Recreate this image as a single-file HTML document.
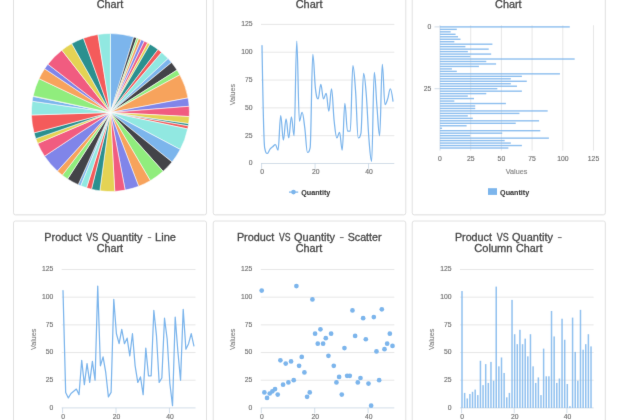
<!DOCTYPE html>
<html><head><meta charset="utf-8"><title>Charts</title>
<style>html,body{margin:0;padding:0;background:#fff;overflow:hidden}svg{display:block}text{font-family:"Liberation Sans",sans-serif}</style>
</head><body>
<svg width="620" height="420" viewBox="0 0 620 420">
<defs><filter id="soft" x="0" y="0" width="620" height="420" filterUnits="userSpaceOnUse" color-interpolation-filters="sRGB"><feConvolveMatrix order="3" kernelMatrix="0.00562 0.06375 0.00562 0.06375 0.72250 0.06375 0.00562 0.06375 0.00562" edgeMode="duplicate" preserveAlpha="true"/></filter></defs>
<g filter="url(#soft)">
<rect x="-5" y="-5" width="630" height="430" fill="#fff"/>
<rect x="13.5" y="-39.4" width="193" height="254.75" rx="2.2" fill="none" stroke="#000" stroke-opacity="0.035" stroke-width="1"/>
<rect x="13.5" y="-40" width="193" height="254.75" rx="2.0" fill="#fff" stroke="#e2e2e2" stroke-width="1"/>
<rect x="13.5" y="221.6" width="193" height="249" rx="2.2" fill="none" stroke="#000" stroke-opacity="0.035" stroke-width="1"/>
<rect x="13.5" y="221" width="193" height="249" rx="2.0" fill="#fff" stroke="#e2e2e2" stroke-width="1"/>
<rect x="213.25" y="-39.4" width="192.5" height="254.75" rx="2.2" fill="none" stroke="#000" stroke-opacity="0.035" stroke-width="1"/>
<rect x="213.25" y="-40" width="192.5" height="254.75" rx="2.0" fill="#fff" stroke="#e2e2e2" stroke-width="1"/>
<rect x="213.25" y="221.6" width="192.5" height="249" rx="2.2" fill="none" stroke="#000" stroke-opacity="0.035" stroke-width="1"/>
<rect x="213.25" y="221" width="192.5" height="249" rx="2.0" fill="#fff" stroke="#e2e2e2" stroke-width="1"/>
<rect x="412.25" y="-39.4" width="193.05" height="254.75" rx="2.2" fill="none" stroke="#000" stroke-opacity="0.035" stroke-width="1"/>
<rect x="412.25" y="-40" width="193.05" height="254.75" rx="2.0" fill="#fff" stroke="#e2e2e2" stroke-width="1"/>
<rect x="412.25" y="221.6" width="193.05" height="249" rx="2.2" fill="none" stroke="#000" stroke-opacity="0.035" stroke-width="1"/>
<rect x="412.25" y="221" width="193.05" height="249" rx="2.0" fill="#fff" stroke="#e2e2e2" stroke-width="1"/>
<text x="96.68" y="8" font-size="10.5" fill="#484848" stroke="#484848" stroke-width="0.3" textLength="26.57" lengthAdjust="spacingAndGlyphs">Chart</text>
<text x="295.68" y="8" font-size="10.5" fill="#484848" stroke="#484848" stroke-width="0.3" textLength="26.77" lengthAdjust="spacingAndGlyphs">Chart</text>
<text x="495.08" y="8" font-size="10.5" fill="#484848" stroke="#484848" stroke-width="0.3" textLength="26.57" lengthAdjust="spacingAndGlyphs">Chart</text>
<text x="44.3" y="240.6" font-size="10.5" fill="#484848" stroke="#484848" stroke-width="0.3" textLength="37.37" lengthAdjust="spacingAndGlyphs">Product</text>
<text x="86.29" y="240.6" font-size="10.5" fill="#484848" stroke="#484848" stroke-width="0.3" textLength="11.94" lengthAdjust="spacingAndGlyphs">VS</text>
<text x="101.68" y="240.6" font-size="10.5" fill="#484848" stroke="#484848" stroke-width="0.3" textLength="40.73" lengthAdjust="spacingAndGlyphs">Quantity</text>
<line x1="147.8" x2="151.2" y1="237.6" y2="237.6" stroke="#484848" stroke-width="0.8"/>
<text x="155.08" y="240.6" font-size="10.5" fill="#484848" stroke="#484848" stroke-width="0.3" textLength="20.82" lengthAdjust="spacingAndGlyphs">Line</text>
<text x="96.69" y="252.4" font-size="10.5" fill="#484848" stroke="#484848" stroke-width="0.3" textLength="26.37" lengthAdjust="spacingAndGlyphs">Chart</text>
<text x="236.9" y="240.6" font-size="10.5" fill="#484848" stroke="#484848" stroke-width="0.3" textLength="37.37" lengthAdjust="spacingAndGlyphs">Product</text>
<text x="279.1" y="240.6" font-size="10.5" fill="#484848" stroke="#484848" stroke-width="0.3" textLength="11.52" lengthAdjust="spacingAndGlyphs">VS</text>
<text x="294.08" y="240.6" font-size="10.5" fill="#484848" stroke="#484848" stroke-width="0.3" textLength="40.83" lengthAdjust="spacingAndGlyphs">Quantity</text>
<line x1="339.9" x2="343.7" y1="237.6" y2="237.6" stroke="#484848" stroke-width="0.8"/>
<text x="347.69" y="240.6" font-size="10.5" fill="#484848" stroke="#484848" stroke-width="0.3" textLength="33.85" lengthAdjust="spacingAndGlyphs">Scatter</text>
<text x="295.68" y="252.4" font-size="10.5" fill="#484848" stroke="#484848" stroke-width="0.3" textLength="26.57" lengthAdjust="spacingAndGlyphs">Chart</text>
<text x="454.91" y="240.6" font-size="10.5" fill="#484848" stroke="#484848" stroke-width="0.3" textLength="36.96" lengthAdjust="spacingAndGlyphs">Product</text>
<text x="496.69" y="240.6" font-size="10.5" fill="#484848" stroke="#484848" stroke-width="0.3" textLength="11.94" lengthAdjust="spacingAndGlyphs">VS</text>
<text x="512.08" y="240.6" font-size="10.5" fill="#484848" stroke="#484848" stroke-width="0.3" textLength="40.83" lengthAdjust="spacingAndGlyphs">Quantity</text>
<line x1="557.9" x2="561.7" y1="237.6" y2="237.6" stroke="#484848" stroke-width="0.8"/>
<text x="474.27" y="252.4" font-size="10.5" fill="#484848" stroke="#484848" stroke-width="0.3" textLength="38.25" lengthAdjust="spacingAndGlyphs">Column</text>
<text x="516.09" y="252.4" font-size="10.5" fill="#484848" stroke="#484848" stroke-width="0.3" textLength="26.37" lengthAdjust="spacingAndGlyphs">Chart</text>
<path d="M110.4 112.5L110.4 33.5A79 79 0 0 1 133.72 37.02Z" fill="#7cb5ec" stroke="#fff" stroke-width="0.56" stroke-linejoin="round"/>
<path d="M110.4 112.5L133.72 37.02A79 79 0 0 1 136.68 38Z" fill="#434348" stroke="#fff" stroke-width="0.56" stroke-linejoin="round"/>
<path d="M110.4 112.5L136.68 38A79 79 0 0 1 138.57 38.69Z" fill="#90ed7d" stroke="#fff" stroke-width="0.56" stroke-linejoin="round"/>
<path d="M110.4 112.5L138.57 38.69A79 79 0 0 1 141.26 39.78Z" fill="#f7a35c" stroke="#fff" stroke-width="0.56" stroke-linejoin="round"/>
<path d="M110.4 112.5L141.26 39.78A79 79 0 0 1 144.32 41.15Z" fill="#8085e9" stroke="#fff" stroke-width="0.56" stroke-linejoin="round"/>
<path d="M110.4 112.5L144.32 41.15A79 79 0 0 1 147.7 42.86Z" fill="#f15c80" stroke="#fff" stroke-width="0.56" stroke-linejoin="round"/>
<path d="M110.4 112.5L147.7 42.86A79 79 0 0 1 150.04 44.17Z" fill="#e4d354" stroke="#fff" stroke-width="0.56" stroke-linejoin="round"/>
<path d="M110.4 112.5L150.04 44.17A79 79 0 0 1 158.04 49.48Z" fill="#2b908f" stroke="#fff" stroke-width="0.56" stroke-linejoin="round"/>
<path d="M110.4 112.5L158.04 49.48A79 79 0 0 1 161.69 52.42Z" fill="#f45b5b" stroke="#fff" stroke-width="0.56" stroke-linejoin="round"/>
<path d="M110.4 112.5L161.69 52.42A79 79 0 0 1 168.14 58.59Z" fill="#91e8e1" stroke="#fff" stroke-width="0.56" stroke-linejoin="round"/>
<path d="M110.4 112.5L168.14 58.59A79 79 0 0 1 171.52 62.45Z" fill="#7cb5ec" stroke="#fff" stroke-width="0.56" stroke-linejoin="round"/>
<path d="M110.4 112.5L171.52 62.45A79 79 0 0 1 177.02 70.04Z" fill="#434348" stroke="#fff" stroke-width="0.56" stroke-linejoin="round"/>
<path d="M110.4 112.5L177.02 70.04A79 79 0 0 1 179.85 74.85Z" fill="#90ed7d" stroke="#fff" stroke-width="0.56" stroke-linejoin="round"/>
<path d="M110.4 112.5L179.85 74.85A79 79 0 0 1 188.04 97.9Z" fill="#f7a35c" stroke="#fff" stroke-width="0.56" stroke-linejoin="round"/>
<path d="M110.4 112.5L188.04 97.9A79 79 0 0 1 189.16 106.31Z" fill="#8085e9" stroke="#fff" stroke-width="0.56" stroke-linejoin="round"/>
<path d="M110.4 112.5L189.16 106.31A79 79 0 0 1 189.29 116.57Z" fill="#f15c80" stroke="#fff" stroke-width="0.56" stroke-linejoin="round"/>
<path d="M110.4 112.5L189.29 116.57A79 79 0 0 1 188.6 123.68Z" fill="#e4d354" stroke="#fff" stroke-width="0.56" stroke-linejoin="round"/>
<path d="M110.4 112.5L188.6 123.68A79 79 0 0 1 188.26 125.89Z" fill="#2b908f" stroke="#fff" stroke-width="0.56" stroke-linejoin="round"/>
<path d="M110.4 112.5L188.26 125.89A79 79 0 0 1 187.67 128.96Z" fill="#f45b5b" stroke="#fff" stroke-width="0.56" stroke-linejoin="round"/>
<path d="M110.4 112.5L187.67 128.96A79 79 0 0 1 180.22 149.46Z" fill="#91e8e1" stroke="#fff" stroke-width="0.56" stroke-linejoin="round"/>
<path d="M110.4 112.5L180.22 149.46A79 79 0 0 1 172.02 161.94Z" fill="#7cb5ec" stroke="#fff" stroke-width="0.56" stroke-linejoin="round"/>
<path d="M110.4 112.5L172.02 161.94A79 79 0 0 1 163.12 171.34Z" fill="#434348" stroke="#fff" stroke-width="0.56" stroke-linejoin="round"/>
<path d="M110.4 112.5L163.12 171.34A79 79 0 0 1 150.33 180.66Z" fill="#90ed7d" stroke="#fff" stroke-width="0.56" stroke-linejoin="round"/>
<path d="M110.4 112.5L150.33 180.66A79 79 0 0 1 138.67 186.27Z" fill="#f7a35c" stroke="#fff" stroke-width="0.56" stroke-linejoin="round"/>
<path d="M110.4 112.5L138.67 186.27A79 79 0 0 1 125.16 190.11Z" fill="#8085e9" stroke="#fff" stroke-width="0.56" stroke-linejoin="round"/>
<path d="M110.4 112.5L125.16 190.11A79 79 0 0 1 114.75 191.38Z" fill="#f15c80" stroke="#fff" stroke-width="0.56" stroke-linejoin="round"/>
<path d="M110.4 112.5L114.75 191.38A79 79 0 0 1 99.83 190.79Z" fill="#e4d354" stroke="#fff" stroke-width="0.56" stroke-linejoin="round"/>
<path d="M110.4 112.5L99.83 190.79A79 79 0 0 1 91.49 189.2Z" fill="#2b908f" stroke="#fff" stroke-width="0.56" stroke-linejoin="round"/>
<path d="M110.4 112.5L91.49 189.2A79 79 0 0 1 86.55 187.81Z" fill="#f45b5b" stroke="#fff" stroke-width="0.56" stroke-linejoin="round"/>
<path d="M110.4 112.5L86.55 187.81A79 79 0 0 1 80.67 185.69Z" fill="#91e8e1" stroke="#fff" stroke-width="0.56" stroke-linejoin="round"/>
<path d="M110.4 112.5L80.67 185.69A79 79 0 0 1 78.21 184.64Z" fill="#7cb5ec" stroke="#fff" stroke-width="0.56" stroke-linejoin="round"/>
<path d="M110.4 112.5L78.21 184.64A79 79 0 0 1 67.61 178.91Z" fill="#434348" stroke="#fff" stroke-width="0.56" stroke-linejoin="round"/>
<path d="M110.4 112.5L67.61 178.91A79 79 0 0 1 62.32 175.18Z" fill="#90ed7d" stroke="#fff" stroke-width="0.56" stroke-linejoin="round"/>
<path d="M110.4 112.5L62.32 175.18A79 79 0 0 1 57.35 171.04Z" fill="#f7a35c" stroke="#fff" stroke-width="0.56" stroke-linejoin="round"/>
<path d="M110.4 112.5L57.35 171.04A79 79 0 0 1 44.57 156.18Z" fill="#8085e9" stroke="#fff" stroke-width="0.56" stroke-linejoin="round"/>
<path d="M110.4 112.5L44.57 156.18A79 79 0 0 1 37.7 143.41Z" fill="#f15c80" stroke="#fff" stroke-width="0.56" stroke-linejoin="round"/>
<path d="M110.4 112.5L37.7 143.41A79 79 0 0 1 35.85 138.63Z" fill="#e4d354" stroke="#fff" stroke-width="0.56" stroke-linejoin="round"/>
<path d="M110.4 112.5L35.85 138.63A79 79 0 0 1 34.07 132.87Z" fill="#2b908f" stroke="#fff" stroke-width="0.56" stroke-linejoin="round"/>
<path d="M110.4 112.5L34.07 132.87A79 79 0 0 1 31.44 115.01Z" fill="#f45b5b" stroke="#fff" stroke-width="0.56" stroke-linejoin="round"/>
<path d="M110.4 112.5L31.44 115.01A79 79 0 0 1 32.21 101.21Z" fill="#91e8e1" stroke="#fff" stroke-width="0.56" stroke-linejoin="round"/>
<path d="M110.4 112.5L32.21 101.21A79 79 0 0 1 33.06 96.37Z" fill="#7cb5ec" stroke="#fff" stroke-width="0.56" stroke-linejoin="round"/>
<path d="M110.4 112.5L33.06 96.37A79 79 0 0 1 33.16 95.93Z" fill="#434348" stroke="#fff" stroke-width="0.56" stroke-linejoin="round"/>
<path d="M110.4 112.5L33.16 95.93A79 79 0 0 1 39.03 78.63Z" fill="#90ed7d" stroke="#fff" stroke-width="0.56" stroke-linejoin="round"/>
<path d="M110.4 112.5L39.03 78.63A79 79 0 0 1 44.63 68.73Z" fill="#f7a35c" stroke="#fff" stroke-width="0.56" stroke-linejoin="round"/>
<path d="M110.4 112.5L44.63 68.73A79 79 0 0 1 47.89 64.2Z" fill="#8085e9" stroke="#fff" stroke-width="0.56" stroke-linejoin="round"/>
<path d="M110.4 112.5L47.89 64.2A79 79 0 0 1 61.88 50.16Z" fill="#f15c80" stroke="#fff" stroke-width="0.56" stroke-linejoin="round"/>
<path d="M110.4 112.5L61.88 50.16A79 79 0 0 1 71.72 43.61Z" fill="#e4d354" stroke="#fff" stroke-width="0.56" stroke-linejoin="round"/>
<path d="M110.4 112.5L71.72 43.61A79 79 0 0 1 83.49 38.23Z" fill="#2b908f" stroke="#fff" stroke-width="0.56" stroke-linejoin="round"/>
<path d="M110.4 112.5L83.49 38.23A79 79 0 0 1 97.95 34.49Z" fill="#f45b5b" stroke="#fff" stroke-width="0.56" stroke-linejoin="round"/>
<path d="M110.4 112.5L97.95 34.49A79 79 0 0 1 110.4 33.5Z" fill="#91e8e1" stroke="#fff" stroke-width="0.56" stroke-linejoin="round"/>
<text x="252.6" y="165.4" font-size="6.8" fill="#727272" stroke="#727272" stroke-width="0.15" text-anchor="end" font-weight="normal" >0</text>
<line x1="261" x2="394.3" y1="135.68" y2="135.68" stroke="#dcdcdc" stroke-width="0.7"/>
<text x="252.6" y="137.58" font-size="6.8" fill="#727272" stroke="#727272" stroke-width="0.15" text-anchor="end" font-weight="normal" >25</text>
<line x1="261" x2="394.3" y1="107.86" y2="107.86" stroke="#dcdcdc" stroke-width="0.7"/>
<text x="252.6" y="109.76" font-size="6.8" fill="#727272" stroke="#727272" stroke-width="0.15" text-anchor="end" font-weight="normal" >50</text>
<line x1="261" x2="394.3" y1="80.04" y2="80.04" stroke="#dcdcdc" stroke-width="0.7"/>
<text x="252.6" y="81.94" font-size="6.8" fill="#727272" stroke="#727272" stroke-width="0.15" text-anchor="end" font-weight="normal" >75</text>
<line x1="261" x2="394.3" y1="52.22" y2="52.22" stroke="#dcdcdc" stroke-width="0.7"/>
<text x="252.6" y="54.12" font-size="6.8" fill="#727272" stroke="#727272" stroke-width="0.15" text-anchor="end" font-weight="normal" >100</text>
<line x1="261" x2="394.3" y1="24.4" y2="24.4" stroke="#dcdcdc" stroke-width="0.7"/>
<text x="252.6" y="26.3" font-size="6.8" fill="#727272" stroke="#727272" stroke-width="0.15" text-anchor="end" font-weight="normal" >125</text>
<text x="235.4" y="94.55" font-size="7.2" fill="#868686" stroke="#868686" stroke-width="0.15" text-anchor="middle" font-weight="normal" transform="rotate(-90 235.4 94.55)">Values</text>
<line x1="261" x2="394.3" y1="163.5" y2="163.5" stroke="#c0d0e0" stroke-width="0.7"/>
<line x1="261.6" x2="261.6" y1="163.5" y2="168.8" stroke="#c0d0e0" stroke-width="0.7"/>
<text x="262.2" y="174.3" font-size="6.8" fill="#727272" stroke="#727272" stroke-width="0.15" text-anchor="middle" font-weight="normal" >0</text>
<line x1="315.07" x2="315.07" y1="163.5" y2="168.8" stroke="#c0d0e0" stroke-width="0.7"/>
<text x="315.67" y="174.3" font-size="6.8" fill="#727272" stroke="#727272" stroke-width="0.15" text-anchor="middle" font-weight="normal" >20</text>
<line x1="368.54" x2="368.54" y1="163.5" y2="168.8" stroke="#c0d0e0" stroke-width="0.7"/>
<text x="369.14" y="174.3" font-size="6.8" fill="#727272" stroke="#727272" stroke-width="0.15" text-anchor="middle" font-weight="normal" >40</text>
<path d="M262 45.54C262 45.54 263.6 142.36 264.67 147.92C265.74 153.48 266.28 153.48 267.35 153.48C268.42 153.48 268.95 150.37 270.02 149.03C271.09 147.7 271.62 147.7 272.69 146.81C273.76 145.92 274.3 144.58 275.37 144.58C276.44 144.58 276.97 150.15 278.04 150.15C279.11 150.15 279.64 115.65 280.71 115.65C281.78 115.65 282.32 140.13 283.39 140.13C284.46 140.13 284.99 118.99 286.06 118.99C287.13 118.99 287.67 137.91 288.73 137.91C289.8 137.91 290.34 116.76 291.41 116.76C292.48 116.76 293.01 135.68 294.08 135.68C295.15 135.68 295.69 41.09 296.76 41.09C297.82 41.09 298.36 121.21 299.43 121.21C300.5 121.21 301.03 112.31 302.1 112.31C303.17 112.31 303.71 119.88 304.78 127.89C305.84 135.9 306.38 152.37 307.45 152.37C308.52 152.37 309.05 152.37 310.12 147.92C311.19 143.47 311.73 54.45 312.8 54.45C313.87 54.45 314.4 80.04 315.47 88.94C316.54 97.84 317.07 98.96 318.14 98.96C319.21 98.96 319.75 84.49 320.82 84.49C321.89 84.49 322.42 98.96 323.49 98.96C324.56 98.96 325.09 93.39 326.16 93.39C327.23 93.39 327.77 111.2 328.84 111.2C329.91 111.2 330.44 88.94 331.51 88.94C332.58 88.94 333.11 111.42 334.18 121.21C335.25 131.01 335.79 137.91 336.86 137.91C337.93 137.91 338.46 132.34 339.53 132.34C340.6 132.34 341.13 150.15 342.2 150.15C343.27 150.15 343.81 103.41 344.88 103.41C345.95 103.41 346.48 131.23 347.55 131.23C348.62 131.23 349.16 131.23 350.22 131.23C351.29 131.23 351.83 65.57 352.9 65.57C353.97 65.57 354.5 76.7 355.57 91.17C356.64 105.63 357.18 137.91 358.24 137.91C359.31 137.91 359.85 137.91 360.92 133.45C361.99 129 362.52 73.36 363.59 73.36C364.66 73.36 365.2 81.38 366.27 94.51C367.33 107.64 367.87 125.66 368.94 139.02C370.01 152.37 370.54 161.27 371.61 161.27C372.68 161.27 373.22 72.25 374.29 72.25C375.36 72.25 375.89 94.06 376.96 106.75C378.03 119.43 378.56 135.68 379.63 135.68C380.7 135.68 381.24 64.46 382.31 64.46C383.38 64.46 383.91 104.52 384.98 104.52C386.05 104.52 386.58 102.07 387.65 98.96C388.72 95.84 389.26 88.94 390.33 88.94C391.4 88.94 393 101.18 393 101.18" fill="none" stroke="#7cb5ec" stroke-width="1.25" stroke-linejoin="round" stroke-linecap="round"/>
<line x1="289.0" x2="298.2" y1="192.1" y2="192.1" stroke="#7cb5ec" stroke-width="1.25"/>
<circle cx="293.5" cy="192.1" r="2.3" fill="#7cb5ec"/>
<text x="301.2" y="194.6" font-size="7.2" fill="#3a3a3a" stroke="#3a3a3a" stroke-width="0.1" text-anchor="start" font-weight="bold" >Quantity</text>
<line x1="440" x2="440" y1="25.25" y2="150.6" stroke="#c0d0e0" stroke-width="0.7"/>
<text x="440" y="161" font-size="6.8" fill="#727272" stroke="#727272" stroke-width="0.15" text-anchor="middle" font-weight="normal" >0</text>
<line x1="470.7" x2="470.7" y1="25.25" y2="150.6" stroke="#dcdcdc" stroke-width="0.7"/>
<text x="470.7" y="161" font-size="6.8" fill="#727272" stroke="#727272" stroke-width="0.15" text-anchor="middle" font-weight="normal" >25</text>
<line x1="501.4" x2="501.4" y1="25.25" y2="150.6" stroke="#dcdcdc" stroke-width="0.7"/>
<text x="501.4" y="161" font-size="6.8" fill="#727272" stroke="#727272" stroke-width="0.15" text-anchor="middle" font-weight="normal" >50</text>
<line x1="532.1" x2="532.1" y1="25.25" y2="150.6" stroke="#dcdcdc" stroke-width="0.7"/>
<text x="532.1" y="161" font-size="6.8" fill="#727272" stroke="#727272" stroke-width="0.15" text-anchor="middle" font-weight="normal" >75</text>
<line x1="562.8" x2="562.8" y1="25.25" y2="150.6" stroke="#dcdcdc" stroke-width="0.7"/>
<text x="562.8" y="161" font-size="6.8" fill="#727272" stroke="#727272" stroke-width="0.15" text-anchor="middle" font-weight="normal" >100</text>
<line x1="593.5" x2="593.5" y1="25.25" y2="150.6" stroke="#dcdcdc" stroke-width="0.7"/>
<text x="593.5" y="161" font-size="6.8" fill="#727272" stroke="#727272" stroke-width="0.15" text-anchor="middle" font-weight="normal" >125</text>
<rect x="440" y="26.19" width="129.77" height="1.4" fill="#7cb5ec" fill-opacity="0.86"/>
<rect x="440" y="28.66" width="16.79" height="1.4" fill="#7cb5ec" fill-opacity="0.86"/>
<rect x="440" y="31.13" width="10.65" height="1.4" fill="#7cb5ec" fill-opacity="0.86"/>
<rect x="440" y="33.6" width="15.56" height="1.4" fill="#7cb5ec" fill-opacity="0.86"/>
<rect x="440" y="36.07" width="18.02" height="1.4" fill="#7cb5ec" fill-opacity="0.86"/>
<rect x="440" y="38.55" width="20.48" height="1.4" fill="#7cb5ec" fill-opacity="0.86"/>
<rect x="440" y="41.02" width="14.34" height="1.4" fill="#7cb5ec" fill-opacity="0.86"/>
<rect x="440" y="43.49" width="52.4" height="1.4" fill="#7cb5ec" fill-opacity="0.86"/>
<rect x="440" y="45.96" width="25.39" height="1.4" fill="#7cb5ec" fill-opacity="0.86"/>
<rect x="440" y="48.43" width="48.72" height="1.4" fill="#7cb5ec" fill-opacity="0.86"/>
<rect x="440" y="50.91" width="27.84" height="1.4" fill="#7cb5ec" fill-opacity="0.86"/>
<rect x="440" y="53.38" width="51.18" height="1.4" fill="#7cb5ec" fill-opacity="0.86"/>
<rect x="440" y="55.85" width="30.3" height="1.4" fill="#7cb5ec" fill-opacity="0.86"/>
<rect x="440" y="58.32" width="134.68" height="1.4" fill="#7cb5ec" fill-opacity="0.86"/>
<rect x="440" y="60.79" width="46.26" height="1.4" fill="#7cb5ec" fill-opacity="0.86"/>
<rect x="440" y="63.27" width="56.09" height="1.4" fill="#7cb5ec" fill-opacity="0.86"/>
<rect x="440" y="65.74" width="38.9" height="1.4" fill="#7cb5ec" fill-opacity="0.86"/>
<rect x="440" y="68.21" width="11.88" height="1.4" fill="#7cb5ec" fill-opacity="0.86"/>
<rect x="440" y="70.68" width="16.79" height="1.4" fill="#7cb5ec" fill-opacity="0.86"/>
<rect x="440" y="73.15" width="119.94" height="1.4" fill="#7cb5ec" fill-opacity="0.86"/>
<rect x="440" y="75.63" width="81.88" height="1.4" fill="#7cb5ec" fill-opacity="0.86"/>
<rect x="440" y="78.1" width="70.82" height="1.4" fill="#7cb5ec" fill-opacity="0.86"/>
<rect x="440" y="80.57" width="86.79" height="1.4" fill="#7cb5ec" fill-opacity="0.86"/>
<rect x="440" y="83.04" width="70.82" height="1.4" fill="#7cb5ec" fill-opacity="0.86"/>
<rect x="440" y="85.51" width="76.96" height="1.4" fill="#7cb5ec" fill-opacity="0.86"/>
<rect x="440" y="87.99" width="57.32" height="1.4" fill="#7cb5ec" fill-opacity="0.86"/>
<rect x="440" y="90.46" width="81.88" height="1.4" fill="#7cb5ec" fill-opacity="0.86"/>
<rect x="440" y="92.93" width="46.26" height="1.4" fill="#7cb5ec" fill-opacity="0.86"/>
<rect x="440" y="95.4" width="27.84" height="1.4" fill="#7cb5ec" fill-opacity="0.86"/>
<rect x="440" y="97.87" width="33.98" height="1.4" fill="#7cb5ec" fill-opacity="0.86"/>
<rect x="440" y="100.35" width="14.34" height="1.4" fill="#7cb5ec" fill-opacity="0.86"/>
<rect x="440" y="102.82" width="65.91" height="1.4" fill="#7cb5ec" fill-opacity="0.86"/>
<rect x="440" y="105.29" width="35.21" height="1.4" fill="#7cb5ec" fill-opacity="0.86"/>
<rect x="440" y="107.76" width="35.21" height="1.4" fill="#7cb5ec" fill-opacity="0.86"/>
<rect x="440" y="110.23" width="107.66" height="1.4" fill="#7cb5ec" fill-opacity="0.86"/>
<rect x="440" y="112.71" width="79.42" height="1.4" fill="#7cb5ec" fill-opacity="0.86"/>
<rect x="440" y="115.18" width="27.84" height="1.4" fill="#7cb5ec" fill-opacity="0.86"/>
<rect x="440" y="117.65" width="32.76" height="1.4" fill="#7cb5ec" fill-opacity="0.86"/>
<rect x="440" y="120.12" width="99.07" height="1.4" fill="#7cb5ec" fill-opacity="0.86"/>
<rect x="440" y="122.59" width="75.74" height="1.4" fill="#7cb5ec" fill-opacity="0.86"/>
<rect x="440" y="125.07" width="26.62" height="1.4" fill="#7cb5ec" fill-opacity="0.86"/>
<rect x="440" y="127.54" width="2.06" height="1.4" fill="#7cb5ec" fill-opacity="0.86"/>
<rect x="440" y="130.01" width="100.3" height="1.4" fill="#7cb5ec" fill-opacity="0.86"/>
<rect x="440" y="132.48" width="62.23" height="1.4" fill="#7cb5ec" fill-opacity="0.86"/>
<rect x="440" y="134.95" width="30.3" height="1.4" fill="#7cb5ec" fill-opacity="0.86"/>
<rect x="440" y="137.43" width="108.89" height="1.4" fill="#7cb5ec" fill-opacity="0.86"/>
<rect x="440" y="139.9" width="64.68" height="1.4" fill="#7cb5ec" fill-opacity="0.86"/>
<rect x="440" y="142.37" width="70.82" height="1.4" fill="#7cb5ec" fill-opacity="0.86"/>
<rect x="440" y="144.84" width="81.88" height="1.4" fill="#7cb5ec" fill-opacity="0.86"/>
<rect x="440" y="147.31" width="68.37" height="1.4" fill="#7cb5ec" fill-opacity="0.86"/>
<line x1="434.5" x2="440" y1="26.89" y2="26.89" stroke="#c0d0e0" stroke-width="0.7"/>
<text x="431.4" y="28.99" font-size="6.8" fill="#727272" stroke="#727272" stroke-width="0.15" text-anchor="end" font-weight="normal" >0</text>
<line x1="434.5" x2="440" y1="88.69" y2="88.69" stroke="#c0d0e0" stroke-width="0.7"/>
<text x="431.4" y="90.79" font-size="6.8" fill="#727272" stroke="#727272" stroke-width="0.15" text-anchor="end" font-weight="normal" >25</text>
<text x="516.6" y="173.8" font-size="7.2" fill="#868686" stroke="#868686" stroke-width="0.15" text-anchor="middle" font-weight="normal" >Values</text>
<rect x="488.0" y="188.2" width="9.0" height="6.7" fill="#7cb5ec"/>
<text x="500.1" y="194.7" font-size="7.2" fill="#3a3a3a" stroke="#3a3a3a" stroke-width="0.1" text-anchor="start" font-weight="bold" >Quantity</text>
<text x="53.3" y="409.8" font-size="6.8" fill="#727272" stroke="#727272" stroke-width="0.15" text-anchor="end" font-weight="normal" >0</text>
<line x1="61.7" x2="195.5" y1="380.22" y2="380.22" stroke="#dcdcdc" stroke-width="0.7"/>
<text x="53.3" y="382.12" font-size="6.8" fill="#727272" stroke="#727272" stroke-width="0.15" text-anchor="end" font-weight="normal" >25</text>
<line x1="61.7" x2="195.5" y1="352.54" y2="352.54" stroke="#dcdcdc" stroke-width="0.7"/>
<text x="53.3" y="354.44" font-size="6.8" fill="#727272" stroke="#727272" stroke-width="0.15" text-anchor="end" font-weight="normal" >50</text>
<line x1="61.7" x2="195.5" y1="324.86" y2="324.86" stroke="#dcdcdc" stroke-width="0.7"/>
<text x="53.3" y="326.76" font-size="6.8" fill="#727272" stroke="#727272" stroke-width="0.15" text-anchor="end" font-weight="normal" >75</text>
<line x1="61.7" x2="195.5" y1="297.18" y2="297.18" stroke="#dcdcdc" stroke-width="0.7"/>
<text x="53.3" y="299.08" font-size="6.8" fill="#727272" stroke="#727272" stroke-width="0.15" text-anchor="end" font-weight="normal" >100</text>
<line x1="61.7" x2="195.5" y1="269.5" y2="269.5" stroke="#dcdcdc" stroke-width="0.7"/>
<text x="53.3" y="271.4" font-size="6.8" fill="#727272" stroke="#727272" stroke-width="0.15" text-anchor="end" font-weight="normal" >125</text>
<text x="36.1" y="339.3" font-size="7.2" fill="#868686" stroke="#868686" stroke-width="0.15" text-anchor="middle" font-weight="normal" transform="rotate(-90 36.1 339.3)">Values</text>
<line x1="61.7" x2="195.5" y1="407.9" y2="407.9" stroke="#c0d0e0" stroke-width="0.7"/>
<line x1="62.6" x2="62.6" y1="407.9" y2="413.2" stroke="#c0d0e0" stroke-width="0.7"/>
<text x="63.2" y="418.7" font-size="6.8" fill="#727272" stroke="#727272" stroke-width="0.15" text-anchor="middle" font-weight="normal" >0</text>
<line x1="116.03" x2="116.03" y1="407.9" y2="413.2" stroke="#c0d0e0" stroke-width="0.7"/>
<text x="116.63" y="418.7" font-size="6.8" fill="#727272" stroke="#727272" stroke-width="0.15" text-anchor="middle" font-weight="normal" >20</text>
<line x1="169.46" x2="169.46" y1="407.9" y2="413.2" stroke="#c0d0e0" stroke-width="0.7"/>
<text x="170.06" y="418.7" font-size="6.8" fill="#727272" stroke="#727272" stroke-width="0.15" text-anchor="middle" font-weight="normal" >40</text>
<path d="M63 290.54L65.67 392.4L68.34 397.94L71.01 393.51L73.69 391.29L76.36 389.08L79.03 394.61L81.7 360.29L84.37 384.65L87.04 363.61L89.71 382.43L92.39 361.4L95.06 380.22L97.73 286.11L100.4 365.83L103.07 356.97L105.74 372.47L108.41 396.83L111.09 392.4L113.76 299.39L116.43 333.72L119.1 343.68L121.77 329.29L124.44 343.68L127.11 338.15L129.79 355.86L132.46 333.72L135.13 365.83L137.8 382.43L140.47 376.9L143.14 394.61L145.81 348.11L148.49 375.79L151.16 375.79L153.83 310.47L156.5 335.93L159.17 382.43L161.84 378.01L164.51 318.22L167.19 339.25L169.86 383.54L172.53 405.69L175.2 317.11L177.87 351.43L180.54 380.22L183.21 309.36L185.89 349.22L188.56 343.68L191.23 333.72L193.9 345.9" fill="none" stroke="#7cb5ec" stroke-width="1.25" stroke-linejoin="round" stroke-linecap="round"/>
<text x="252.4" y="409.8" font-size="6.8" fill="#727272" stroke="#727272" stroke-width="0.15" text-anchor="end" font-weight="normal" >0</text>
<line x1="260.8" x2="394.3" y1="380.22" y2="380.22" stroke="#dcdcdc" stroke-width="0.7"/>
<text x="252.4" y="382.12" font-size="6.8" fill="#727272" stroke="#727272" stroke-width="0.15" text-anchor="end" font-weight="normal" >25</text>
<line x1="260.8" x2="394.3" y1="352.54" y2="352.54" stroke="#dcdcdc" stroke-width="0.7"/>
<text x="252.4" y="354.44" font-size="6.8" fill="#727272" stroke="#727272" stroke-width="0.15" text-anchor="end" font-weight="normal" >50</text>
<line x1="260.8" x2="394.3" y1="324.86" y2="324.86" stroke="#dcdcdc" stroke-width="0.7"/>
<text x="252.4" y="326.76" font-size="6.8" fill="#727272" stroke="#727272" stroke-width="0.15" text-anchor="end" font-weight="normal" >75</text>
<line x1="260.8" x2="394.3" y1="297.18" y2="297.18" stroke="#dcdcdc" stroke-width="0.7"/>
<text x="252.4" y="299.08" font-size="6.8" fill="#727272" stroke="#727272" stroke-width="0.15" text-anchor="end" font-weight="normal" >100</text>
<line x1="260.8" x2="394.3" y1="269.5" y2="269.5" stroke="#dcdcdc" stroke-width="0.7"/>
<text x="252.4" y="271.4" font-size="6.8" fill="#727272" stroke="#727272" stroke-width="0.15" text-anchor="end" font-weight="normal" >125</text>
<text x="235.2" y="339.3" font-size="7.2" fill="#868686" stroke="#868686" stroke-width="0.15" text-anchor="middle" font-weight="normal" transform="rotate(-90 235.2 339.3)">Values</text>
<line x1="260.8" x2="394.3" y1="407.9" y2="407.9" stroke="#c0d0e0" stroke-width="0.7"/>
<line x1="261.3" x2="261.3" y1="407.9" y2="413.2" stroke="#c0d0e0" stroke-width="0.7"/>
<text x="261.9" y="418.7" font-size="6.8" fill="#727272" stroke="#727272" stroke-width="0.15" text-anchor="middle" font-weight="normal" >0</text>
<line x1="314.69" x2="314.69" y1="407.9" y2="413.2" stroke="#c0d0e0" stroke-width="0.7"/>
<text x="315.29" y="418.7" font-size="6.8" fill="#727272" stroke="#727272" stroke-width="0.15" text-anchor="middle" font-weight="normal" >20</text>
<line x1="368.08" x2="368.08" y1="407.9" y2="413.2" stroke="#c0d0e0" stroke-width="0.7"/>
<text x="368.68" y="418.7" font-size="6.8" fill="#727272" stroke="#727272" stroke-width="0.15" text-anchor="middle" font-weight="normal" >40</text>
<circle cx="261.7" cy="290.54" r="2.35" fill="#7cb5ec"/>
<circle cx="264.37" cy="392.4" r="2.35" fill="#7cb5ec"/>
<circle cx="267.04" cy="397.94" r="2.35" fill="#7cb5ec"/>
<circle cx="269.71" cy="393.51" r="2.35" fill="#7cb5ec"/>
<circle cx="272.38" cy="391.29" r="2.35" fill="#7cb5ec"/>
<circle cx="275.05" cy="389.08" r="2.35" fill="#7cb5ec"/>
<circle cx="277.72" cy="394.61" r="2.35" fill="#7cb5ec"/>
<circle cx="280.39" cy="360.29" r="2.35" fill="#7cb5ec"/>
<circle cx="283.06" cy="384.65" r="2.35" fill="#7cb5ec"/>
<circle cx="285.72" cy="363.61" r="2.35" fill="#7cb5ec"/>
<circle cx="288.39" cy="382.43" r="2.35" fill="#7cb5ec"/>
<circle cx="291.06" cy="361.4" r="2.35" fill="#7cb5ec"/>
<circle cx="293.73" cy="380.22" r="2.35" fill="#7cb5ec"/>
<circle cx="296.4" cy="286.11" r="2.35" fill="#7cb5ec"/>
<circle cx="299.07" cy="365.83" r="2.35" fill="#7cb5ec"/>
<circle cx="301.74" cy="356.97" r="2.35" fill="#7cb5ec"/>
<circle cx="304.41" cy="372.47" r="2.35" fill="#7cb5ec"/>
<circle cx="307.08" cy="396.83" r="2.35" fill="#7cb5ec"/>
<circle cx="309.75" cy="392.4" r="2.35" fill="#7cb5ec"/>
<circle cx="312.42" cy="299.39" r="2.35" fill="#7cb5ec"/>
<circle cx="315.09" cy="333.72" r="2.35" fill="#7cb5ec"/>
<circle cx="317.76" cy="343.68" r="2.35" fill="#7cb5ec"/>
<circle cx="320.43" cy="329.29" r="2.35" fill="#7cb5ec"/>
<circle cx="323.1" cy="343.68" r="2.35" fill="#7cb5ec"/>
<circle cx="325.77" cy="338.15" r="2.35" fill="#7cb5ec"/>
<circle cx="328.43" cy="355.86" r="2.35" fill="#7cb5ec"/>
<circle cx="331.1" cy="333.72" r="2.35" fill="#7cb5ec"/>
<circle cx="333.77" cy="365.83" r="2.35" fill="#7cb5ec"/>
<circle cx="336.44" cy="382.43" r="2.35" fill="#7cb5ec"/>
<circle cx="339.11" cy="376.9" r="2.35" fill="#7cb5ec"/>
<circle cx="341.78" cy="394.61" r="2.35" fill="#7cb5ec"/>
<circle cx="344.45" cy="348.11" r="2.35" fill="#7cb5ec"/>
<circle cx="347.12" cy="375.79" r="2.35" fill="#7cb5ec"/>
<circle cx="349.79" cy="375.79" r="2.35" fill="#7cb5ec"/>
<circle cx="352.46" cy="310.47" r="2.35" fill="#7cb5ec"/>
<circle cx="355.13" cy="335.93" r="2.35" fill="#7cb5ec"/>
<circle cx="357.8" cy="382.43" r="2.35" fill="#7cb5ec"/>
<circle cx="360.47" cy="378.01" r="2.35" fill="#7cb5ec"/>
<circle cx="363.14" cy="318.22" r="2.35" fill="#7cb5ec"/>
<circle cx="365.81" cy="339.25" r="2.35" fill="#7cb5ec"/>
<circle cx="368.48" cy="383.54" r="2.35" fill="#7cb5ec"/>
<circle cx="371.14" cy="405.69" r="2.35" fill="#7cb5ec"/>
<circle cx="373.81" cy="317.11" r="2.35" fill="#7cb5ec"/>
<circle cx="376.48" cy="351.43" r="2.35" fill="#7cb5ec"/>
<circle cx="379.15" cy="380.22" r="2.35" fill="#7cb5ec"/>
<circle cx="381.82" cy="309.36" r="2.35" fill="#7cb5ec"/>
<circle cx="384.49" cy="349.22" r="2.35" fill="#7cb5ec"/>
<circle cx="387.16" cy="343.68" r="2.35" fill="#7cb5ec"/>
<circle cx="389.83" cy="333.72" r="2.35" fill="#7cb5ec"/>
<circle cx="392.5" cy="345.9" r="2.35" fill="#7cb5ec"/>
<text x="451.6" y="409.8" font-size="6.8" fill="#727272" stroke="#727272" stroke-width="0.15" text-anchor="end" font-weight="normal" >0</text>
<line x1="460" x2="593.6" y1="380.22" y2="380.22" stroke="#dcdcdc" stroke-width="0.7"/>
<text x="451.6" y="382.12" font-size="6.8" fill="#727272" stroke="#727272" stroke-width="0.15" text-anchor="end" font-weight="normal" >25</text>
<line x1="460" x2="593.6" y1="352.54" y2="352.54" stroke="#dcdcdc" stroke-width="0.7"/>
<text x="451.6" y="354.44" font-size="6.8" fill="#727272" stroke="#727272" stroke-width="0.15" text-anchor="end" font-weight="normal" >50</text>
<line x1="460" x2="593.6" y1="324.86" y2="324.86" stroke="#dcdcdc" stroke-width="0.7"/>
<text x="451.6" y="326.76" font-size="6.8" fill="#727272" stroke="#727272" stroke-width="0.15" text-anchor="end" font-weight="normal" >75</text>
<line x1="460" x2="593.6" y1="297.18" y2="297.18" stroke="#dcdcdc" stroke-width="0.7"/>
<text x="451.6" y="299.08" font-size="6.8" fill="#727272" stroke="#727272" stroke-width="0.15" text-anchor="end" font-weight="normal" >100</text>
<line x1="460" x2="593.6" y1="269.5" y2="269.5" stroke="#dcdcdc" stroke-width="0.7"/>
<text x="451.6" y="271.4" font-size="6.8" fill="#727272" stroke="#727272" stroke-width="0.15" text-anchor="end" font-weight="normal" >125</text>
<text x="434.4" y="339.3" font-size="7.2" fill="#868686" stroke="#868686" stroke-width="0.15" text-anchor="middle" font-weight="normal" transform="rotate(-90 434.4 339.3)">Values</text>
<line x1="460" x2="593.6" y1="407.9" y2="407.9" stroke="#c0d0e0" stroke-width="0.7"/>
<line x1="461.6" x2="461.6" y1="407.9" y2="413.2" stroke="#c0d0e0" stroke-width="0.7"/>
<text x="462.2" y="418.7" font-size="6.8" fill="#727272" stroke="#727272" stroke-width="0.15" text-anchor="middle" font-weight="normal" >0</text>
<line x1="514.26" x2="514.26" y1="407.9" y2="413.2" stroke="#c0d0e0" stroke-width="0.7"/>
<text x="514.86" y="418.7" font-size="6.8" fill="#727272" stroke="#727272" stroke-width="0.15" text-anchor="middle" font-weight="normal" >20</text>
<line x1="566.92" x2="566.92" y1="407.9" y2="413.2" stroke="#c0d0e0" stroke-width="0.7"/>
<text x="567.52" y="418.7" font-size="6.8" fill="#727272" stroke="#727272" stroke-width="0.15" text-anchor="middle" font-weight="normal" >40</text>
<rect x="461.25" y="291.04" width="1.5" height="116.86" fill="#7cb5ec" fill-opacity="0.84"/>
<rect x="463.88" y="392.9" width="1.5" height="15" fill="#7cb5ec" fill-opacity="0.84"/>
<rect x="466.52" y="398.44" width="1.5" height="9.46" fill="#7cb5ec" fill-opacity="0.84"/>
<rect x="469.15" y="394.01" width="1.5" height="13.89" fill="#7cb5ec" fill-opacity="0.84"/>
<rect x="471.78" y="391.79" width="1.5" height="16.11" fill="#7cb5ec" fill-opacity="0.84"/>
<rect x="474.42" y="389.58" width="1.5" height="18.32" fill="#7cb5ec" fill-opacity="0.84"/>
<rect x="477.05" y="395.11" width="1.5" height="12.79" fill="#7cb5ec" fill-opacity="0.84"/>
<rect x="479.68" y="360.79" width="1.5" height="47.11" fill="#7cb5ec" fill-opacity="0.84"/>
<rect x="482.31" y="385.15" width="1.5" height="22.75" fill="#7cb5ec" fill-opacity="0.84"/>
<rect x="484.95" y="364.11" width="1.5" height="43.79" fill="#7cb5ec" fill-opacity="0.84"/>
<rect x="487.58" y="382.93" width="1.5" height="24.97" fill="#7cb5ec" fill-opacity="0.84"/>
<rect x="490.21" y="361.9" width="1.5" height="46" fill="#7cb5ec" fill-opacity="0.84"/>
<rect x="492.85" y="380.72" width="1.5" height="27.18" fill="#7cb5ec" fill-opacity="0.84"/>
<rect x="495.48" y="286.61" width="1.5" height="121.29" fill="#7cb5ec" fill-opacity="0.84"/>
<rect x="498.11" y="366.33" width="1.5" height="41.57" fill="#7cb5ec" fill-opacity="0.84"/>
<rect x="500.75" y="357.47" width="1.5" height="50.43" fill="#7cb5ec" fill-opacity="0.84"/>
<rect x="503.38" y="372.97" width="1.5" height="34.93" fill="#7cb5ec" fill-opacity="0.84"/>
<rect x="506.01" y="397.33" width="1.5" height="10.57" fill="#7cb5ec" fill-opacity="0.84"/>
<rect x="508.64" y="392.9" width="1.5" height="15" fill="#7cb5ec" fill-opacity="0.84"/>
<rect x="511.28" y="299.89" width="1.5" height="108.01" fill="#7cb5ec" fill-opacity="0.84"/>
<rect x="513.91" y="334.22" width="1.5" height="73.68" fill="#7cb5ec" fill-opacity="0.84"/>
<rect x="516.54" y="344.18" width="1.5" height="63.72" fill="#7cb5ec" fill-opacity="0.84"/>
<rect x="519.18" y="329.79" width="1.5" height="78.11" fill="#7cb5ec" fill-opacity="0.84"/>
<rect x="521.81" y="344.18" width="1.5" height="63.72" fill="#7cb5ec" fill-opacity="0.84"/>
<rect x="524.44" y="338.65" width="1.5" height="69.25" fill="#7cb5ec" fill-opacity="0.84"/>
<rect x="527.08" y="356.36" width="1.5" height="51.54" fill="#7cb5ec" fill-opacity="0.84"/>
<rect x="529.71" y="334.22" width="1.5" height="73.68" fill="#7cb5ec" fill-opacity="0.84"/>
<rect x="532.34" y="366.33" width="1.5" height="41.57" fill="#7cb5ec" fill-opacity="0.84"/>
<rect x="534.97" y="382.93" width="1.5" height="24.97" fill="#7cb5ec" fill-opacity="0.84"/>
<rect x="537.61" y="377.4" width="1.5" height="30.5" fill="#7cb5ec" fill-opacity="0.84"/>
<rect x="540.24" y="395.11" width="1.5" height="12.79" fill="#7cb5ec" fill-opacity="0.84"/>
<rect x="542.87" y="348.61" width="1.5" height="59.29" fill="#7cb5ec" fill-opacity="0.84"/>
<rect x="545.51" y="376.29" width="1.5" height="31.61" fill="#7cb5ec" fill-opacity="0.84"/>
<rect x="548.14" y="376.29" width="1.5" height="31.61" fill="#7cb5ec" fill-opacity="0.84"/>
<rect x="550.77" y="310.97" width="1.5" height="96.93" fill="#7cb5ec" fill-opacity="0.84"/>
<rect x="553.4" y="336.43" width="1.5" height="71.47" fill="#7cb5ec" fill-opacity="0.84"/>
<rect x="556.04" y="382.93" width="1.5" height="24.97" fill="#7cb5ec" fill-opacity="0.84"/>
<rect x="558.67" y="378.51" width="1.5" height="29.39" fill="#7cb5ec" fill-opacity="0.84"/>
<rect x="561.3" y="318.72" width="1.5" height="89.18" fill="#7cb5ec" fill-opacity="0.84"/>
<rect x="563.94" y="339.75" width="1.5" height="68.15" fill="#7cb5ec" fill-opacity="0.84"/>
<rect x="566.57" y="384.04" width="1.5" height="23.86" fill="#7cb5ec" fill-opacity="0.84"/>
<rect x="569.2" y="406.19" width="1.5" height="1.71" fill="#7cb5ec" fill-opacity="0.84"/>
<rect x="571.84" y="317.61" width="1.5" height="90.29" fill="#7cb5ec" fill-opacity="0.84"/>
<rect x="574.47" y="351.93" width="1.5" height="55.97" fill="#7cb5ec" fill-opacity="0.84"/>
<rect x="577.1" y="380.72" width="1.5" height="27.18" fill="#7cb5ec" fill-opacity="0.84"/>
<rect x="579.74" y="309.86" width="1.5" height="98.04" fill="#7cb5ec" fill-opacity="0.84"/>
<rect x="582.37" y="349.72" width="1.5" height="58.18" fill="#7cb5ec" fill-opacity="0.84"/>
<rect x="585" y="344.18" width="1.5" height="63.72" fill="#7cb5ec" fill-opacity="0.84"/>
<rect x="587.63" y="334.22" width="1.5" height="73.68" fill="#7cb5ec" fill-opacity="0.84"/>
<rect x="590.27" y="346.4" width="1.5" height="61.5" fill="#7cb5ec" fill-opacity="0.84"/>
</g>
</svg>
</body></html>
